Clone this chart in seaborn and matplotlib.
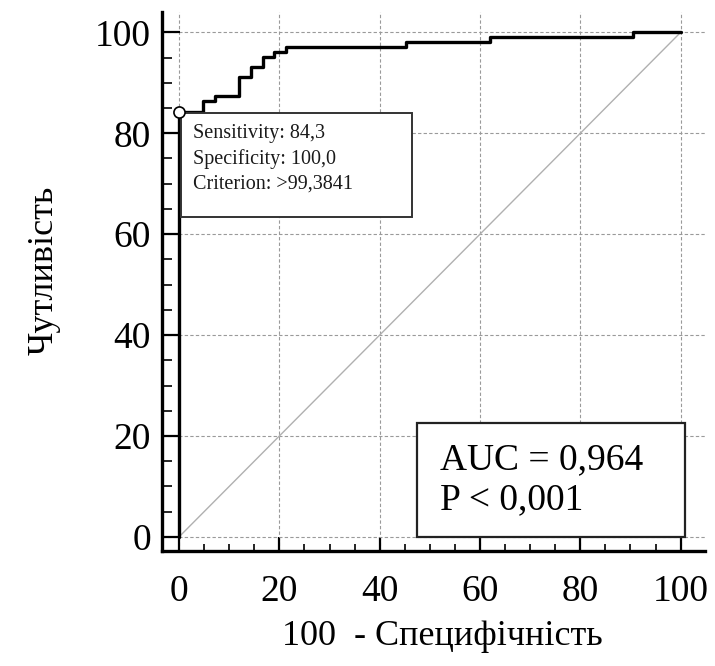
import matplotlib
matplotlib.use("Agg")
import matplotlib.pyplot as plt
from matplotlib.patches import Rectangle
from matplotlib.ticker import MultipleLocator
import seaborn as sns
import pandas as pd

# ROC operating points (100 - specificity, sensitivity), in percent
fpr = [0, 0, 4.8, 7.1, 11.9, 14.3, 16.7, 19.0, 21.4, 45.2, 61.9, 90.5, 100]
tpr = [0, 84.3, 86.3, 87.3, 91.2, 93.1, 95.1, 96.1, 97.1, 98.0, 99.0, 100, 100]

# Chance line
ref_x = [0, 100]
ref_y = [0, 100]

# Selected cut-off
cut_fpr = 0.0
cut_tpr = 84.3
cut_lines = ["Sensitivity: 84,3", "Specificity: 100,0", "Criterion: >99,3841"]
auc_lines = ["AUC = 0,964", "P < 0,001"]

ticks = [0, 20, 40, 60, 80, 100]
xlabel = "100  - Специфічність"
ylabel = "Чутливість"

sns.set_style("white")
plt.rcParams["font.family"] = ["Liberation Serif", "DejaVu Serif"]

fig = plt.figure(figsize=(7.15, 6.66), dpi=100)
ax = fig.add_axes([0.2266, 0.1727, 0.759, 0.809])

roc = pd.DataFrame({"fpr": fpr, "tpr": tpr})
diag = pd.DataFrame({"x": ref_x, "y": ref_y})

sns.lineplot(data=diag, x="x", y="y", ax=ax, color="#b0b0b0", lw=1.0,
             sort=False, estimator=None, zorder=2)
sns.lineplot(data=roc, x="fpr", y="tpr", ax=ax, color="black", lw=2.4,
             sort=False, estimator=None, drawstyle="steps-post", zorder=4)
ax.plot([cut_fpr], [cut_tpr], marker="o", ms=8, mfc="white", mec="black",
        mew=1.2, zorder=6, clip_on=False)

ax.set_xlim(-3.4, 104.8)
ax.set_ylim(-2.8, 104.0)

# Cut-off info box
ax.add_patch(Rectangle((0.3, 63.4), 46.1, 20.6, fill=True, facecolor="white",
                       edgecolor="#333333", lw=1.4, zorder=5))
for i, s in enumerate(cut_lines):
    ax.text(2.8, 79.9 - i * 4.95, s, fontsize=14.5, color="#1a1a1a",
            va="center", ha="left", zorder=7)

# AUC box
ax.add_patch(Rectangle((47.4, 0.0), 53.4, 22.6, fill=True, facecolor="white",
                       edgecolor="#222222", lw=1.6, zorder=5))
for i, s in enumerate(auc_lines):
    ax.text(52.0, 15.2 - i * 7.9, s, fontsize=27, color="black",
            va="center", ha="left", zorder=7)

# Axes styling
for side in ("top", "right"):
    ax.spines[side].set_visible(False)
for side in ("left", "bottom"):
    ax.spines[side].set_linewidth(2.4)
    ax.spines[side].set_color("black")

ax.set_xticks(ticks)
ax.set_yticks(ticks)
ax.xaxis.set_minor_locator(MultipleLocator(5))
ax.yaxis.set_minor_locator(MultipleLocator(5))
ax.tick_params(axis="both", which="both", direction="in", color="black",
               labelcolor="black", labelsize=27,
               bottom=True, left=True, top=False, right=False)
ax.tick_params(axis="x", which="both", pad=17)
ax.tick_params(axis="y", which="both", pad=8)
ax.tick_params(axis="x", which="major", length=10, width=1.6)
ax.tick_params(axis="x", which="minor", length=5, width=1.2)
ax.tick_params(axis="y", which="major", length=13, width=1.6)
ax.tick_params(axis="y", which="minor", length=7, width=1.2)

ax.grid(True, which="major", color="#9a9a9a", lw=0.8, ls=(0, (3, 2)))
ax.set_axisbelow(True)

ax.set_xlabel(xlabel, fontsize=26, color="black")
ax.set_ylabel(ylabel, fontsize=26, color="black")
ax.xaxis.set_label_coords(0.517, -0.128)
ax.yaxis.set_label_coords(-0.187, 0.52)

fig.savefig("out.png", dpi=100, facecolor="white")
